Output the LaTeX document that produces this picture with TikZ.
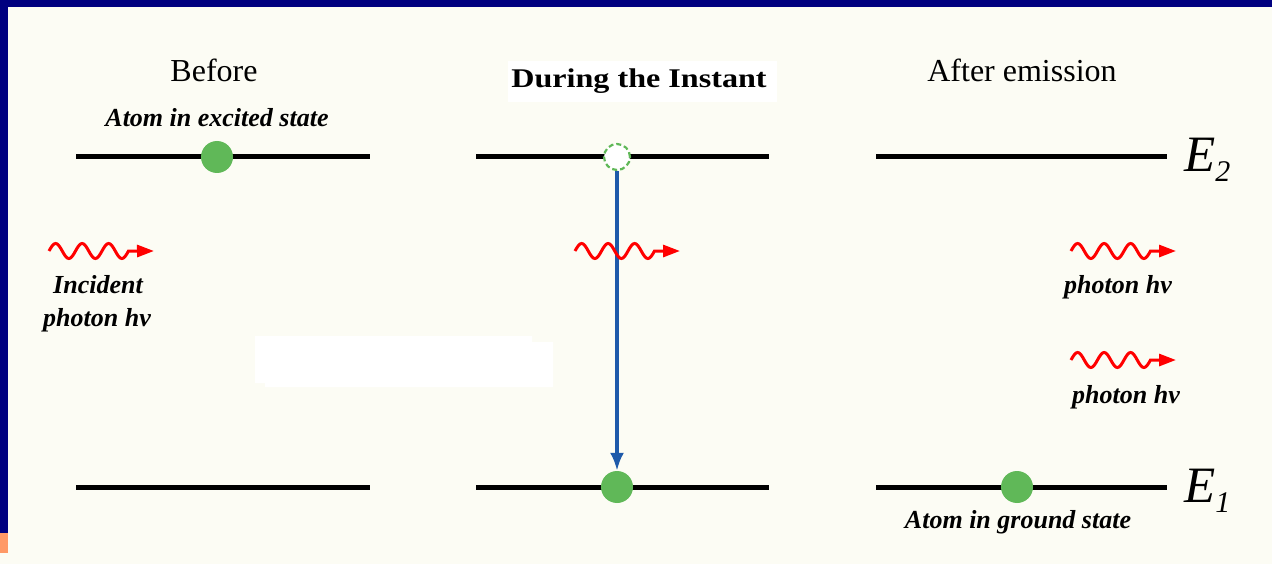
\documentclass[tikz,border=0pt]{standalone}
\usepackage{fontspec}
\usepackage{graphicx}
\setmainfont{Liberation Serif}
\usetikzlibrary{arrows.meta}
\definecolor{navyframe}{RGB}{0,0,128}
\definecolor{creambg}{RGB}{252,252,244}
\definecolor{orangepatch}{RGB}{255,153,102}
\definecolor{atomgreen}{RGB}{96,184,88}
\definecolor{transblue}{RGB}{30,90,170}
\newcommand\photonwave[2]{%
  \draw[photonline] plot[domain=0:3,samples=61,smooth] ({#1+26.5*\x},{#2-7.5*sin(360*\x)}) -- ({#1+105},{#2});}
\begin{document}
\begin{tikzpicture}[x=1pt,y=-1pt,
  level/.style={line width=5pt,black},
  atom/.style={circle,fill=atomgreen,minimum size=32pt,inner sep=0pt},
  emptyatom/.style={circle,draw=atomgreen,dash pattern=on 5pt off 3pt,line width=2.2pt,fill=white,minimum size=26pt,inner sep=0pt},
  photonline/.style={red,line width=3pt,-{Triangle[length=17pt,width=12pt]}},
  transition/.style={transblue,line width=3.5pt,-{Latex[length=18pt,width=14pt]}},
  title/.style={font=\fontsize{32}{36}\selectfont,anchor=base,inner sep=0pt},
  label/.style={font=\fontsize{26}{30}\selectfont\bfseries\itshape,anchor=base,inner sep=0pt},
  energy/.style={font=\fontsize{51}{51}\selectfont\itshape,anchor=base west,inner sep=0pt}]
\useasboundingbox (0,0) rectangle (1272,564);
\fill[creambg] (0,0) rectangle (1272,564);
\fill[navyframe] (0,0) rectangle (1272,7);
\fill[navyframe] (0,0) rectangle (8,533);
\fill[orangepatch] (0,533) rectangle (8,553);
% white patch
\fill[white] (255,336) -- (532,336) -- (532,342) -- (553,342) -- (553,387) -- (265,387) -- (265,383) -- (255,383) -- cycle;
% energy levels
\draw[level] (76,157) -- (370,157);
\draw[level] (76,487) -- (370,487);
\draw[level] (476,157) -- (769,157);
\draw[level] (476,487) -- (769,487);
\draw[level] (876,157) -- (1167,157);
\draw[level] (876,487) -- (1167,487);
% titles
\node[title] (before) at (214,82) {Before};
\node[fill=white,minimum width=269pt,minimum height=41pt,inner sep=0pt] (duringbox) at (642.5,81.5) {};
\node[font=\fontsize{27}{30}\selectfont\bfseries,anchor=base,inner sep=0pt] (during) at (639,88) {\scalebox{1.19}[1]{During the Instant}};
\node[title] (after) at (1022,82) {After emission};
% atoms
\node[atom] (atomexc) at (217,157) {};
\node[emptyatom] (exc) at (617,157) {};
\node[atom] (gnd) at (617,487) {};
\node[atom] (atomgnd) at (1017,487) {};
\draw[transition] (exc.south) -- (gnd.north);
% labels
\node[label] (lblexc) at (217,127) {Atom in excited state};
\node[label] (lblgnd) at (1018,528) {Atom in ground state};
\node[label] (lblinc1) at (98,293) {Incident};
\node[label] (lblinc2) at (97,326) {photon hν};
\node[label] (lblph1) at (1118,293) {photon hν};
\node[label] (lblph2) at (1126,403) {photon hν};
% energies
\node[energy] (E2) at (1184,172) {E\raisebox{-10pt}{\fontsize{30}{30}\selectfont 2}};
\node[energy] (E1) at (1184,502) {E\raisebox{-10pt}{\fontsize{30}{30}\selectfont 1}};
% photons
\photonwave{49}{251}
\photonwave{575}{251}
\photonwave{1071}{251}
\photonwave{1071}{360}
\end{tikzpicture}
\end{document}
